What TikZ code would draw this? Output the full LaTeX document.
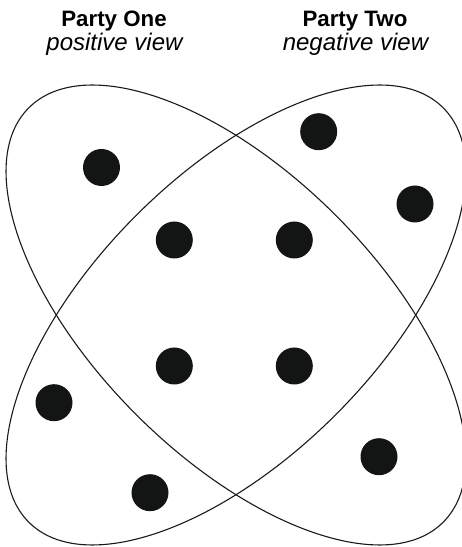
\documentclass[tikz,border=0pt]{standalone}
\usepackage{fontspec}
\setmainfont{Liberation Sans}
\usepackage{tikz}
\usetikzlibrary{positioning}
\definecolor{dotfill}{HTML}{131514}
\definecolor{outline}{HTML}{1A1A1A}

\begin{document}
\begin{tikzpicture}[
    x=1pt, y=1pt,
    dot/.style={circle, fill=dotfill, inner sep=0pt, minimum size=37pt},
    title/.style={font=\fontsize{22.3}{26}\selectfont\bfseries, anchor=base},
    view/.style={font=\fontsize{24}{28}\selectfont\itshape, anchor=base},
    party/.style={draw=outline, line width=1.1pt},
]
\useasboundingbox (0,0) rectangle (462,547);
\clip (0,0) rectangle (462,547);

% === LABELS ===
\node[title] (onetitle) at (114,520) {Party One};
\node[view]  (oneview)  at (114.5,496) {positive view};
\node[title] (twotitle) at (355,520) {Party Two};
\node[view]  (twoview)  at (355.5,496) {negative view};

% === PARTIES ===
\coordinate (mid) at (236,232);
\draw[party, rotate around={-45:(mid)}] (mid) ellipse [x radius=293, y radius=141];
\draw[party, rotate around={45:(mid)}]  (mid) ellipse [x radius=293, y radius=141];

% === MEMBERS ===
\node[dot] (d1)  at (101.5,379.5) {};
\node[dot] (d2)  at (318.7,415.3) {};
\node[dot] (d3)  at (415,343) {};
\node[dot] (d4)  at (174.3,307) {};
\node[dot] (d5)  at (294.3,307) {};
\node[dot] (d6)  at (174.3,181) {};
\node[dot] (d7)  at (294.3,181) {};
\node[dot] (d8)  at (54,144.3) {};
\node[dot] (d9)  at (150,54.3) {};
\node[dot] (d10) at (379,90.3) {};

\end{tikzpicture}
\end{document}
